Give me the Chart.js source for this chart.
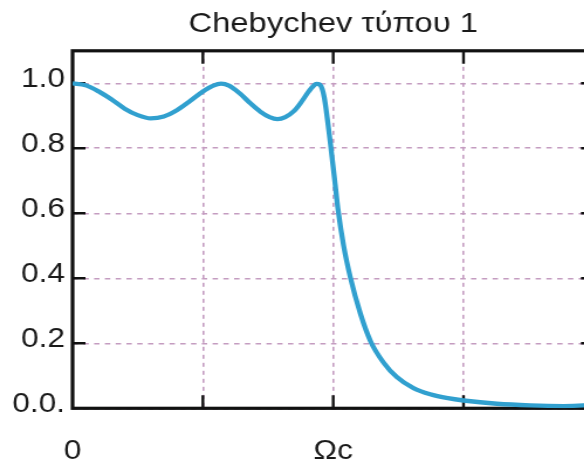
<!DOCTYPE html>
<html>
<head>
<meta charset="utf-8">
<script src="https://cdn.jsdelivr.net/npm/chart.js@4.4.1/dist/chart.umd.min.js"></script>
<style>
  html, body { margin: 0; padding: 0; background: #fff; overflow: hidden; }
  #wrap { width: 584px; height: 464px; overflow: hidden; }
  /* the source picture is stretched sideways, so the canvas is too */
  #filterChart { width: 604px; height: 464px; }
</style>
</head>
<body>
<div id="wrap">
  <canvas id="filterChart" width="516" height="464" style="width:604px;height:464px"></canvas>
</div>
<script>
// chart for chebychev type 1 low-pass response

// normalised frequency (0 .. 1, cut-off at 0.5)
var freq = [
  0.000, 0.025, 0.050, 0.075, 0.100, 0.125, 0.150, 0.175, 0.200, 0.225,
  0.250, 0.270, 0.285, 0.300, 0.320, 0.340, 0.360, 0.378, 0.393, 0.408,
  0.425, 0.440, 0.453, 0.462, 0.468, 0.474, 0.479, 0.483, 0.487, 0.491,
  0.495, 0.499, 0.503, 0.509, 0.520, 0.533, 0.552, 0.572, 0.597, 0.622,
  0.654, 0.686, 0.720, 0.750, 0.814, 0.878, 0.942, 0.980, 1.000
];

// magnitude
var gain = [
  1.000, 0.994, 0.975, 0.950, 0.922, 0.902, 0.892, 0.898, 0.917, 0.945,
  0.975, 0.993, 0.999, 0.993, 0.970, 0.940, 0.913, 0.896, 0.890, 0.896,
  0.915, 0.945, 0.975, 0.992, 0.998, 0.996, 0.982, 0.955, 0.912, 0.862,
  0.810, 0.755, 0.700, 0.615, 0.500, 0.402, 0.292, 0.205, 0.140, 0.096,
  0.062, 0.043, 0.031, 0.024, 0.014, 0.009, 0.007, 0.009, 0.012
];

var xTicks = [0, 0.25, 0.5, 0.75, 1];
var xTickLabels = ["0", "", "Ωc", "", "1"];
var yTicks = [0, 0.2, 0.4, 0.6, 0.8, 1.0];
var yTickLabels = ["0.0.", "0.2", "0.4", "0.6", "0.8", "1.0"];

var titleText = "Chebychev τύπου 1";

document.addEventListener("DOMContentLoaded", function () {
  var ctx = document.getElementById("filterChart").getContext("2d");

  var points = freq.map(function (f, i) {
    return { x: f, y: gain[i] };
  });

  var fontFamily = "'Liberation Sans', Arial, Helvetica, sans-serif";
  var gridColor = '#c49cc0';

  // black box round the plot, with short ticks pointing inwards
  var frameTicks = {
    id: 'frameTicks',
    beforeDatasetsDraw: function (chart) {
      var c = chart.ctx;
      var a = chart.chartArea;
      var xs = chart.scales.x;
      var ys = chart.scales.y;
      c.save();
      c.strokeStyle = '#111';
      c.lineWidth = 2.4;
      c.beginPath();
      xs.ticks.forEach(function (t) {
        if (t.value <= xs.min || t.value >= xs.max) return;
        var px = xs.getPixelForValue(t.value);
        c.moveTo(px, a.top);
        c.lineTo(px, a.top + 13);
        c.moveTo(px, a.bottom);
        c.lineTo(px, a.bottom - 13);
      });
      ys.ticks.forEach(function (t) {
        if (t.value <= ys.min || t.value >= ys.max) return;
        var py = ys.getPixelForValue(t.value);
        c.moveTo(a.left, py);
        c.lineTo(a.left + 11, py);
        c.moveTo(a.right, py);
        c.lineTo(a.right - 11, py);
      });
      c.stroke();
      c.lineWidth = 3.2;
      c.strokeRect(a.left, a.top, a.right - a.left, a.bottom - a.top);
      c.restore();
    }
  };

  var options = {
    responsive: false,
    devicePixelRatio: 1,
    animation: false,
    layout: {
      padding: { left: 10, right: 8.7, top: 0, bottom: 0 }
    },
    plugins: {
      legend: { display: false },
      tooltip: { enabled: false },
      title: {
        display: true,
        text: titleText,
        fullSize: false,
        color: '#1a1a1a',
        font: { family: fontFamily, size: 28, weight: 'normal' },
        padding: { top: 7, bottom: 10.2 }
      }
    },
    scales: {
      x: {
        type: 'linear',
        min: 0,
        max: 1,
        afterBuildTicks: function (scale) {
          scale.ticks = xTicks.map(function (v) { return { value: v }; });
        },
        afterFit: function (scale) {
          scale.height = 55.7;
          scale.paddingLeft = 0;
          scale.paddingRight = 0;
        },
        ticks: {
          autoSkip: false,
          maxRotation: 0,
          padding: 27,
          color: '#1a1a1a',
          font: { family: fontFamily, size: 27 },
          callback: function (value, index) { return xTickLabels[index]; }
        },
        grid: {
          color: gridColor,
          lineWidth: 1.6,
          drawTicks: false
        },
        border: { display: false, dash: [4, 4] }
      },
      y: {
        type: 'linear',
        min: 0,
        max: 1.1,
        afterBuildTicks: function (scale) {
          scale.ticks = yTicks.map(function (v) { return { value: v }; });
        },
        afterFit: function (scale) {
          scale.width = 52;
        },
        ticks: {
          padding: 6.4,
          labelOffset: -3.5,
          color: '#1a1a1a',
          font: { family: fontFamily, size: 27 },
          callback: function (value, index) { return yTickLabels[index]; }
        },
        grid: {
          color: gridColor,
          lineWidth: 1.6,
          drawTicks: false
        },
        border: { display: false, dash: [4.6, 4.6] }
      }
    }
  };

  new Chart(ctx, {
    type: 'line',
    data: {
      datasets: [{
        label: 'Chebychev',
        data: points,
        borderColor: '#31a0cf',
        borderWidth: 4.3,
        pointRadius: 0,
        fill: false,
        cubicInterpolationMode: 'monotone'
      }]
    },
    options: options,
    plugins: [frameTicks]
  });
});
</script>
</body>
</html>
